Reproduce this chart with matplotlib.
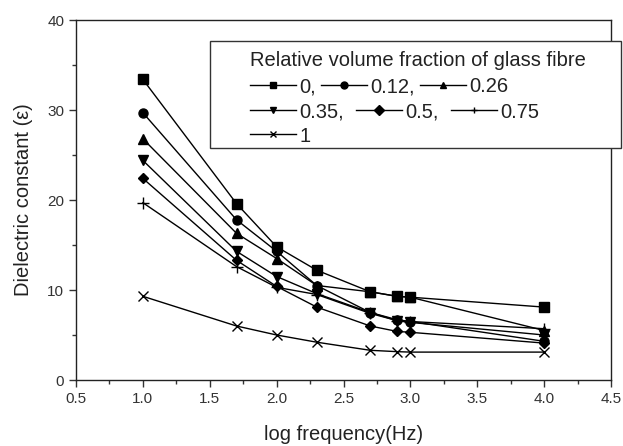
import matplotlib
matplotlib.use("Agg")
import matplotlib.pyplot as plt
from matplotlib.ticker import MultipleLocator
from matplotlib.patches import Rectangle

plt.rcParams['font.family'] = ['Liberation Sans', 'DejaVu Sans']

log_freq = [1.0, 1.7, 2.0, 2.3, 2.7, 2.9, 3.0, 4.0]
fractions = ["0,", "0.12,", "0.26", "0.35,", "0.5,", "0.75", "1"]
eps_0 = [33.4, 19.6, 14.8, 12.2, 9.8, 9.3, 9.2, 8.1]
eps_012 = [29.7, 17.8, 14.3, 10.5, 7.5, 6.7, 6.5, 4.3]
eps_026 = [26.8, 16.3, 13.5, 10.5, 9.8, 9.3, 9.2, 5.5]
eps_035 = [24.4, 14.3, 11.5, 9.6, 7.5, 6.6, 6.4, 5.0]
eps_05 = [22.4, 13.3, 10.4, 8.1, 6.0, 5.4, 5.3, 4.1]
eps_075 = [19.7, 12.6, 10.3, 9.5, 7.4, 6.6, 6.5, 5.7]
eps_1 = [9.3, 6.0, 5.0, 4.2, 3.3, 3.15, 3.1, 3.1]

series = [eps_0, eps_012, eps_026, eps_035, eps_05, eps_075, eps_1]
markers = ['s', 'o', '^', 'v', 'D', '+', 'x']
msizes = [6.5, 6.5, 7, 7, 5.5, 8, 7]

W, H = 623, 446
fig = plt.figure(figsize=(W/100, H/100), dpi=100)
ax = fig.add_axes([76/W, 1-380/H, (611-76)/W, (380-20)/H])

handles = []
for vals, m, ms, lab in zip(series, markers, msizes, fractions):
    h, = ax.plot(log_freq, vals, color='black', lw=1.0, marker=m, ms=ms,
                 mew=1.0, mfc='black', mec='black', label=lab)
    handles.append(h)

ax.set_xlim(0.5, 4.5)
ax.set_ylim(0, 40)
ax.xaxis.set_major_locator(MultipleLocator(0.5))
ax.xaxis.set_minor_locator(MultipleLocator(0.25))
ax.yaxis.set_major_locator(MultipleLocator(10))
ax.yaxis.set_minor_locator(MultipleLocator(5))
ax.xaxis.set_major_formatter(matplotlib.ticker.FormatStrFormatter('%.1f'))
ax.tick_params(which='both', direction='out', top=False, right=False,
               labelsize=11, colors='#333333', width=1)
ax.tick_params(which='major', length=5)
ax.tick_params(which='minor', length=3)
for s in ax.spines.values():
    s.set_linewidth(1.0)
    s.set_color('#222222')

ax.set_xlabel('log frequency(Hz)', fontsize=14.5, labelpad=14, color='#222222')
ax.set_ylabel('Dielectric constant (\u03b5)', fontsize=14.5, labelpad=10, color='#222222')

# legend box
fig.add_artist(Rectangle((210/W, 1-148/H), (621-210)/W, (148-41)/H,
                         transform=fig.transFigure, facecolor='white',
                         edgecolor='#333333', lw=1.0, zorder=3))
fig.text(250/W, 1-60/H, 'Relative volume fraction of glass fibre',
         fontsize=14.5, ha='left', va='center', color='#222222', zorder=6)

rows = [([0, 1, 2], 87, 0.25), ([3, 4, 5], 112, 0.6), ([6], 136, 0.3)]
for idx, yc, cs in rows:
    lg = fig.legend([handles[i] for i in idx], [fractions[i] for i in idx],
                    ncol=len(idx), loc='center left',
                    bbox_to_anchor=(250/W, 1-yc/H), frameon=False,
                    fontsize=14.5, handlelength=2.3, handletextpad=0.15,
                    columnspacing=cs, borderpad=0, borderaxespad=0,
                    labelcolor='#222222')
    lg.set_zorder(6)
    for h in lg.legend_handles:
        h.set_markersize(5)

fig.savefig('out.png', dpi=100)
